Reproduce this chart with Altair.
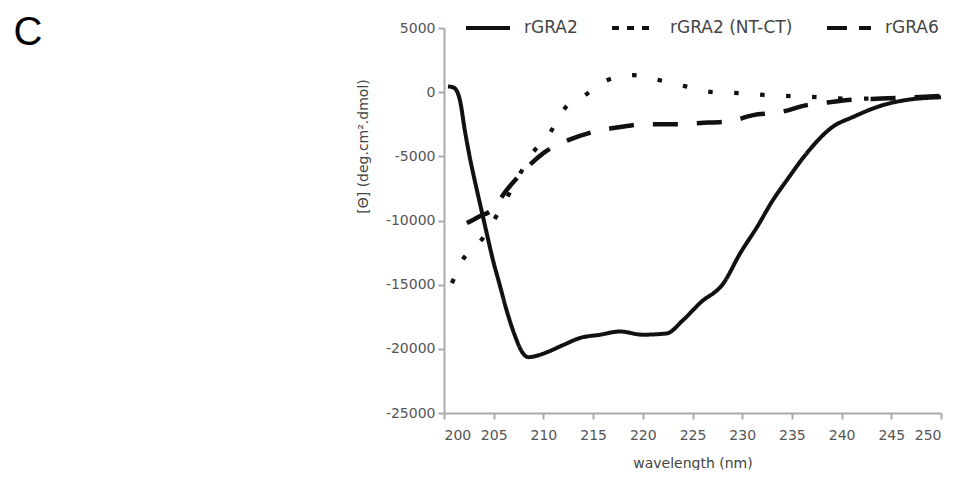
import altair as alt
import pandas as pd

# ---- data ----
series_names = ["rGRA2", "rGRA2 (NT-CT)", "rGRA6"]

wl_gra2 = [200.4, 201.0, 201.6, 202.1, 202.6, 203.3, 203.8, 204.3, 204.9, 205.6, 206.3,
           207.1, 207.9, 208.5, 209.5, 210.4, 212.0, 213.7, 215.7, 217.7, 220.0, 222.4,
           224.0, 225.8, 228.1, 229.8, 231.5, 233.1, 234.5, 236.5, 239.1, 241.1, 244.2,
           246.6, 250.0]
val_gra2 = [450, 350, -620, -3000, -5100, -7600, -9300, -11000, -13000, -15000, -17000,
            -18900, -20300, -20650, -20500, -20250, -19700, -19150, -18900, -18650, -18900, -18800,
            -17800, -16400, -14900, -12550, -10500, -8400, -6850, -4750, -2700, -1950, -1000,
            -600, -400]

wl_ntct = [200.8, 201.8, 203.6, 206.3, 208.9, 210.7, 212.0, 214.2, 216.4, 219.0, 221.7,
           224.2, 227.0, 229.8, 232.4, 235.1, 237.8, 240.5, 243.5, 246.5, 249.5]
val_ntct = [-14880, -13170, -11690, -8260, -4750, -3120, -1400, -230, 930, 1320, 930,
            470, 0, -80, -230, -310, -390, -500, -500, -450, -400]

wl_gra6 = [202.3, 203.5, 204.8, 206.3, 207.9, 210.0, 212.5, 214.9, 217.9, 220.2, 223.0,
           225.8, 228.8, 231.1, 233.8, 236.5, 238.8, 241.0, 244.0, 247.0, 250.0]
val_gra6 = [-10200, -9700, -9190, -7630, -6230, -4750, -3740, -3120, -2700, -2500, -2500,
            -2400, -2260, -1790, -1560, -1010, -780, -600, -500, -400, -300]

x_ticks = list(range(200, 251, 5))
y_ticks = [5000, 0, -5000, -10000, -15000, -20000, -25000]
panel_label = ["C"]

rows = []
for name, wls, vals in [(series_names[0], wl_gra2, val_gra2),
                        (series_names[1], wl_ntct, val_ntct),
                        (series_names[2], wl_gra6, val_gra6)]:
    for w, v in zip(wls, vals):
        rows.append({"series": name, "wavelength": w, "theta": v})
df = pd.DataFrame(rows)

FONT = "DejaVu Sans"

x = alt.X("wavelength:Q",
          scale=alt.Scale(domain=[200, 250], nice=False, zero=False),
          axis=alt.Axis(values=x_ticks, title="wavelength (nm)", grid=False,
                        labelPadding=9, titlePadding=14))
y = alt.Y("theta:Q",
          scale=alt.Scale(domain=[-25000, 5000], nice=False, zero=False),
          axis=alt.Axis(values=y_ticks, format="d", grid=False,
                        labelExpr="replace(datum.label, '\u2212', '-')",
                        title="[Θ] (deg.cm².dmol)",
                        titleAngle=270, titleAlign="center", titleBaseline="middle",
                        titleX=-81, titleY=118))

lines = alt.Chart(df).mark_line(color="#111", strokeCap="butt", interpolate="monotone").encode(
    x=x, y=y,
    detail="series:N",
    strokeDash=alt.StrokeDash("series:N",
                              scale=alt.Scale(domain=series_names,
                                              range=[[1, 0], [4.5, 21.5], [25, 19]]),
                              legend=None),
    strokeWidth=alt.StrokeWidth("series:N",
                                scale=alt.Scale(domain=series_names, range=[4, 4.5, 3.5]),
                                legend=None),
)

legend_layer = alt.Chart(df).mark_line(color="#111", strokeOpacity=0).encode(
    x=x, y=y,
    strokeDash=alt.StrokeDash("series:N",
                              scale=alt.Scale(domain=series_names,
                                              range=[[1, 0], [7, 8], [20, 12]]),
                              legend=alt.Legend(title=None, orient="none", legendX=20, legendY=-24,
                                                direction="horizontal",
                                                symbolType="stroke", symbolSize=1936,
                                                symbolStrokeWidth=4, symbolStrokeColor="#111",
                                                symbolOpacity=1,
                                                labelFont=FONT, labelFontSize=17,
                                                labelColor="#444", labelOffset=12,
                                                columnPadding=26, padding=0)),
)

label_c = alt.Chart(pd.DataFrame({"label": panel_label})).mark_text(
    font="Liberation Sans", fontSize=40, color="#000", align="center", baseline="middle"
).encode(text="label:N", x=alt.value(-416), y=alt.value(5))

chart = alt.layer(lines, legend_layer, label_c).resolve_scale(
    strokeDash="independent"
).properties(
    width=497, height=385,
    autosize=alt.AutoSizeParams(type="none"),
    padding={"left": 436, "top": 20, "right": 9, "bottom": 57},
).configure_view(strokeWidth=0).configure_axis(
    domainColor="#aaa", domainWidth=2, tickColor="#aaa", tickWidth=2, tickSize=6,
    labelFont=FONT, labelFontSize=14, labelColor="#555", labelPadding=3,
    titleFont=FONT, titleFontSize=14, titleColor="#444", titleFontWeight="normal",
)

chart.save("out.html", embed_options={"renderer": "svg", "actions": False})
